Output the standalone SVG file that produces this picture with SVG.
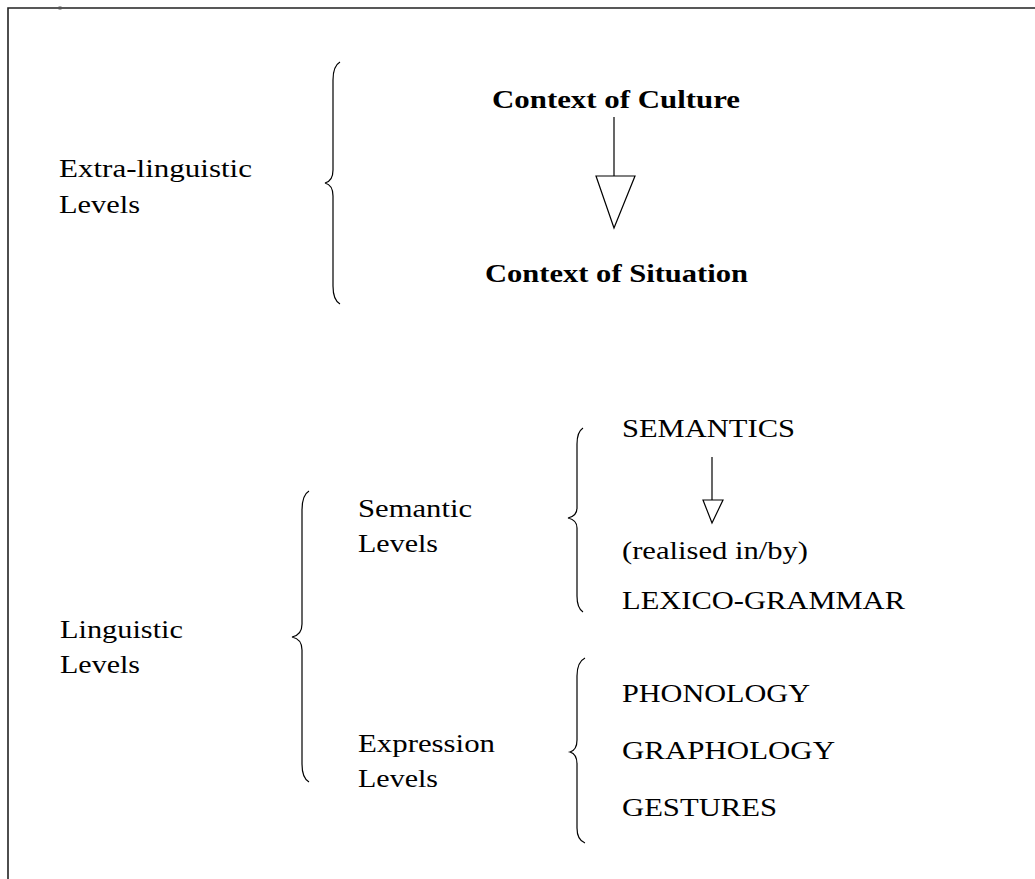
<svg xmlns="http://www.w3.org/2000/svg" width="1035" height="879" viewBox="0 0 1035 879">
<style>
text{font-family:"Liberation Serif","Times New Roman",serif;font-size:25px;fill:#000}
.b{font-weight:bold}
.br{fill:none;stroke:#000;stroke-width:1.2}
.ln{stroke:#000;stroke-width:1.2;fill:none}
.tri{fill:#fff;stroke:#000;stroke-width:1.2}
</style>
<rect width="1035" height="879" fill="#fff"/>
<g id="frame">
<path d="M1035 8 H8 V879" fill="none" stroke="#222" stroke-width="1.6"/>
<rect x="58.5" y="6.5" width="3" height="3" fill="#555"/>
</g>
<g id="extra-linguistic">
<text x="59" y="177" textLength="193" lengthAdjust="spacingAndGlyphs">Extra-linguistic</text>
<text x="59" y="213" textLength="81" lengthAdjust="spacingAndGlyphs">Levels</text>
</g>
<g id="brace-extra"><path class="br" d="M340 62 Q333 66 333 80 V170 Q333 181 325 183 Q333 185 333 196 V286 Q333 300 340 304"/></g>
<g id="context-culture"><text class="b" x="492" y="108" textLength="248" lengthAdjust="spacingAndGlyphs">Context of Culture</text></g>
<g id="context-situation"><text class="b" x="485" y="282" textLength="263" lengthAdjust="spacingAndGlyphs">Context of Situation</text></g>
<g id="linguistic">
<text x="60" y="638" textLength="123" lengthAdjust="spacingAndGlyphs">Linguistic</text>
<text x="60" y="673" textLength="80" lengthAdjust="spacingAndGlyphs">Levels</text>
</g>
<g id="brace-linguistic"><path class="br" d="M309 491 Q302 495 302 510 V624 Q302 635 292 637 Q302 639 302 650 V764 Q302 778 309 782"/></g>
<g id="semantic-levels">
<text x="358" y="517" textLength="114" lengthAdjust="spacingAndGlyphs">Semantic</text>
<text x="358" y="552" textLength="80" lengthAdjust="spacingAndGlyphs">Levels</text>
</g>
<g id="expression-levels">
<text x="358" y="752" textLength="137" lengthAdjust="spacingAndGlyphs">Expression</text>
<text x="358" y="787" textLength="80" lengthAdjust="spacingAndGlyphs">Levels</text>
</g>
<g id="brace-semantic"><path class="br" d="M583 428 Q577 432 577 444 V508 Q577 516 568 518 Q577 520 577 528 V596 Q577 608 583 612"/></g>
<g id="semantics"><text x="622" y="437" textLength="173" lengthAdjust="spacingAndGlyphs">SEMANTICS</text></g>
<g id="realised"><text x="622" y="559" textLength="186" lengthAdjust="spacingAndGlyphs">(realised in/by)</text></g>
<g id="lexicogrammar"><text x="622" y="609" textLength="283" lengthAdjust="spacingAndGlyphs">LEXICO-GRAMMAR</text></g>
<g id="brace-expression"><path class="br" d="M585 658 Q577 662 577 676 V740 Q577 750 570 752 Q577 754 577 764 V828 Q577 840 585 843"/></g>
<g id="phonology"><text x="622" y="702" textLength="188" lengthAdjust="spacingAndGlyphs">PHONOLOGY</text></g>
<g id="graphology"><text x="622" y="759" textLength="213" lengthAdjust="spacingAndGlyphs">GRAPHOLOGY</text></g>
<g id="gestures"><text x="622" y="816" textLength="155" lengthAdjust="spacingAndGlyphs">GESTURES</text></g>
<g id="connectors">
<line class="ln" x1="614" y1="117" x2="614" y2="176"/>
<polygon class="tri" points="596,176 635,176 614,228"/>
<line class="ln" x1="712" y1="457" x2="712" y2="500"/>
<polygon class="tri" points="703,500 723,500 712,523"/>
</g>
</svg>
